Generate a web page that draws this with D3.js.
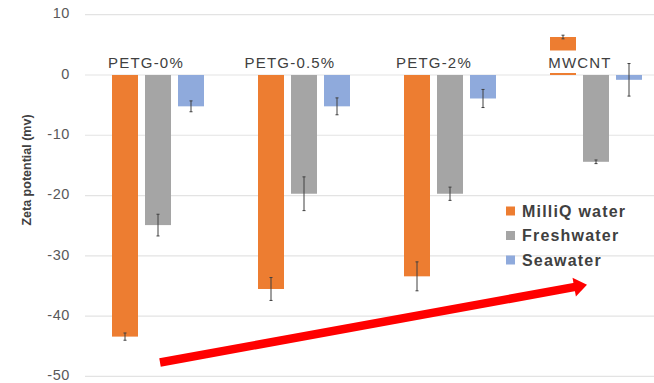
<!DOCTYPE html>
<html>
<head>
<meta charset="utf-8">
<script src="https://cdn.jsdelivr.net/npm/d3@7/dist/d3.min.js"></script>
<style>
  html, body { margin: 0; padding: 0; background: #fff; }
  svg { display: block; font-family: Arial, "Liberation Sans", sans-serif; }
</style>
</head>
<body>
<svg id="chart" width="654" height="383"></svg>
<script>
// Zeta potential by sample and dispersion medium
const categories = ["PETG-0%", "PETG-0.5%", "PETG-2%", "MWCNT"];
const seriesNames = ["MilliQ water", "Freshwater", "Seawater"];
const seriesColors = ["#ED7D31", "#A5A5A5", "#8FAADC"];
const milliQ = [-43.4, -35.5, -33.4, 6.3];
const milliQErr = [0.6, 1.9, 2.4, 0.3];
const fresh = [-24.9, -19.7, -19.7, -14.4];
const freshErr = [1.8, 2.8, 1.1, 0.3];
const sea = [-5.2, -5.2, -3.9, -0.8];
const seaErr = [0.9, 1.4, 1.5, 2.7];
const yTicks = [10, 0, -10, -20, -30, -40, -50];
const yTitle = "Zeta potential (mv)";

const values = [milliQ, fresh, sea];
const errors = [milliQErr, freshErr, seaErr];

const svg = d3.select("#chart");
const plotLeft = 85, plotRight = 669, plotTop = 14.7, plotBottom = 376.4;

const y = d3.scaleLinear().domain([-50, 10]).range([plotBottom, plotTop]);
const x0 = d3.scaleBand().domain(categories).range([plotLeft, plotRight]).paddingInner(0).paddingOuter(0);
const x1 = d3.scaleBand().domain(seriesNames).range([27, 119]).paddingInner(7 / 33).paddingOuter(0);

// gridlines
svg.append("g").selectAll("line").data(yTicks).join("line")
  .attr("x1", plotLeft).attr("x2", 654)
  .attr("y1", d => y(d)).attr("y2", d => y(d))
  .attr("stroke", "#e3e3e3").attr("stroke-width", 1.2);

// y tick labels (plain hyphen minus)
const yAxis = d3.axisLeft(y).tickValues(yTicks).tickSize(0).tickPadding(0).tickFormat(d => String(d));
const gy = svg.append("g").attr("transform", "translate(70,0)").call(yAxis);
gy.select(".domain").remove();
gy.selectAll("text")
  .attr("fill", "#595959").attr("font-size", 14.5).attr("font-family", "Arial, 'Liberation Sans', sans-serif")
  .attr("letter-spacing", 0.6).attr("dy", "0.22em");

// y axis title
svg.append("text")
  .attr("transform", "translate(31,170) rotate(-90)")
  .attr("text-anchor", "middle")
  .attr("font-size", 12.5).attr("font-weight", "bold").attr("fill", "#404040")
  .text(yTitle);

// bars
const flat = [];
seriesNames.forEach((s, si) => {
  categories.forEach((c, ci) => {
    flat.push({ cat: c, series: s, si, v: values[si][ci], e: errors[si][ci] });
  });
});

svg.append("g").selectAll("rect").data(flat).join("rect")
  .attr("x", d => x0(d.cat) + x1(d.series))
  .attr("width", x1.bandwidth())
  .attr("y", d => y(Math.max(0, d.v)))
  .attr("height", d => Math.abs(y(d.v) - y(0)))
  .attr("fill", d => seriesColors[d.si]);

// error bars
const eg = svg.append("g").attr("stroke", "#404040").attr("stroke-width", 1);
flat.forEach(d => {
  const cx = x0(d.cat) + x1(d.series) + x1.bandwidth() / 2;
  const y1 = y(d.v - d.e), y2 = y(d.v + d.e);
  eg.append("line").attr("x1", cx).attr("x2", cx).attr("y1", y1).attr("y2", y2);
  eg.append("line").attr("x1", cx - 1.5).attr("x2", cx + 1.5).attr("y1", y1).attr("y2", y1);
  eg.append("line").attr("x1", cx - 1.5).attr("x2", cx + 1.5).attr("y1", y2).attr("y2", y2);
});

// category labels on white boxes
const labelShift = [-12, -14, -16, -16];
const lg = svg.append("g");
categories.forEach((c, i) => {
  const cx = x0(c) + x0.bandwidth() / 2 + labelShift[i];
  const t = lg.append("text")
    .attr("x", cx).attr("y", 68)
    .attr("text-anchor", "middle")
    .attr("font-size", 15).attr("letter-spacing", 1.2).attr("fill", "#404040")
    .text(c);
  const bb = t.node().getBBox();
  lg.insert("rect", "text")
    .attr("x", bb.x - 4).attr("y", 50.5).attr("width", bb.width + 8).attr("height", 22.5)
    .attr("fill", "#fff");
});

// legend
const leg = svg.append("g").attr("transform", "translate(506,211)");
seriesNames.forEach((s, i) => {
  const g = leg.append("g").attr("transform", `translate(0,${i * 24.5})`);
  g.append("rect").attr("x", 0).attr("y", -4.5).attr("width", 9).attr("height", 9).attr("fill", seriesColors[i]);
  g.append("text").attr("x", 16).attr("y", 5.5)
    .attr("font-size", 16).attr("font-weight", "bold").attr("letter-spacing", 1.2)
    .attr("fill", "#404040").text(s);
});

// trend arrow from PETG-0% towards MWCNT
const arrowStart = [x0("PETG-0%") + 75, y(-47.7)];
const arrowEnd = [x0("MWCNT") + 64, y(-34.8)];
const ang = Math.atan2(arrowEnd[1] - arrowStart[1], arrowEnd[0] - arrowStart[0]);
const headLen = 13, headHalf = 9.5;
const base = [arrowEnd[0] - headLen * Math.cos(ang), arrowEnd[1] - headLen * Math.sin(ang)];
svg.append("line")
  .attr("x1", arrowStart[0]).attr("y1", arrowStart[1])
  .attr("x2", base[0] + Math.cos(ang)).attr("y2", base[1] + Math.sin(ang))
  .attr("stroke", "#FF0000").attr("stroke-width", 8.5);
const px = -Math.sin(ang), py = Math.cos(ang);
svg.append("path")
  .attr("d", `M${arrowEnd[0]},${arrowEnd[1]} L${base[0] + px * headHalf},${base[1] + py * headHalf} L${base[0] - px * headHalf},${base[1] - py * headHalf} Z`)
  .attr("fill", "#FF0000");
</script>
</body>
</html>
